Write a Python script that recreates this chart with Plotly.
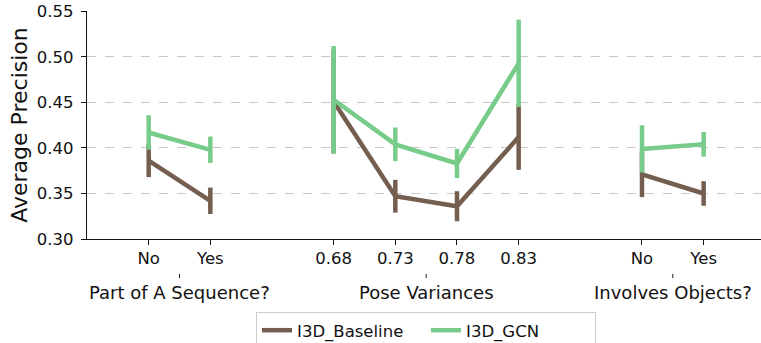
import plotly.graph_objects as go

# ---- data ----
groups = ["Part of A Sequence?", "Pose Variances", "Involves Objects?"]
group_cats = [["No", "Yes"], ["0.68", "0.73", "0.78", "0.83"], ["No", "Yes"]]

baseline_mean = [[0.386, 0.342], [0.451, 0.347, 0.336, 0.412], [0.371, 0.350]]
baseline_err = [[0.018, 0.0145], [0.057, 0.018, 0.0165, 0.036], [0.025, 0.0135]]
gcn_mean = [[0.417, 0.398], [0.453, 0.404, 0.383, 0.493], [0.399, 0.404]]
gcn_err = [[0.019, 0.0145], [0.059, 0.0185, 0.016, 0.048], [0.026, 0.0135]]

series_names = ["I3D_Baseline", "I3D_GCN"]
colors = ["#745e4f", "#77cc8a"]

# ---- positions: categories along x with a one-slot gap between groups ----
tickvals, ticktext, group_centers = [], [], []
pos = 1
group_x = []
for cats in group_cats:
    gx = []
    for c in cats:
        gx.append(pos)
        tickvals.append(pos)
        ticktext.append(c)
        pos += 1
    group_x.append(gx)
    group_centers.append(sum(gx) / len(gx))
    pos += 1


def flatten(vals):
    out = []
    for i, g in enumerate(vals):
        out.extend(g)
        if i < len(vals) - 1:
            out.append(None)
    return out


x_flat = flatten(group_x)

fig = go.Figure()
for name, means, errs, col in zip(series_names, [baseline_mean, gcn_mean],
                                  [baseline_err, gcn_err], colors):
    fig.add_trace(go.Scatter(
        x=x_flat, y=flatten(means), name=name, mode="lines",
        connectgaps=False,
        line=dict(color=col, width=4.5),
        error_y=dict(type="data", array=flatten(errs), color=col,
                     thickness=4.5, width=0, visible=True),
    ))

FONT = "DejaVu Sans"

for gname, cx in zip(groups, group_centers):
    fig.add_annotation(x=cx, y=-0.234, xref="x", yref="paper", text=gname,
                       showarrow=False, yanchor="middle",
                       font=dict(family=FONT, size=18, color="#111"))
    fig.add_shape(type="line", xref="x", yref="paper", x0=cx, x1=cx,
                  y0=-0.153, y1=-0.172, line=dict(color="#222", width=1))

fig.update_layout(
    width=761, height=343,
    margin=dict(l=87, r=0, t=11, b=104, autoexpand=False),
    plot_bgcolor="white", paper_bgcolor="white",
    font=dict(family=FONT, size=16, color="#111"),
    showlegend=True,
    legend=dict(orientation="h", x=0.503, xanchor="center", y=-0.32,
                yanchor="top", bordercolor="#cccccc", borderwidth=1,
                font=dict(family=FONT, size=16.5),
                entrywidth=124, entrywidthmode="pixels"),
)
fig.update_xaxes(
    range=[0, 10.93], tickvals=tickvals, ticktext=ticktext,
    showgrid=False, zeroline=False, showline=True, linecolor="#111",
    linewidth=1.2, ticks="outside", ticklen=5, tickcolor="#111",
    tickfont=dict(family=FONT, size=16.5), ticklabelstandoff=-1,
    automargin=False,
)
fig.update_yaxes(
    range=[0.30, 0.5505], tickvals=[0.30, 0.35, 0.40, 0.45, 0.50, 0.55],
    tickformat=".2f", showgrid=True, gridcolor="#c8c8c8", griddash="dash",
    gridwidth=1, zeroline=False, showline=True, linecolor="#111",
    linewidth=1.2, ticks="outside", ticklen=5, tickcolor="#111",
    tickfont=dict(family=FONT, size=16.5), ticklabelstandoff=4,
    ticklabeloverflow="allow",
    title=dict(text="Average Precision", font=dict(family=FONT, size=22),
               standoff=3),
    automargin=False,
)

# remove the default 8px page margin so the figure fills the window
fig.write_html("out.html", config={"displayModeBar": False},
               post_script="document.body.style.margin='0';")
